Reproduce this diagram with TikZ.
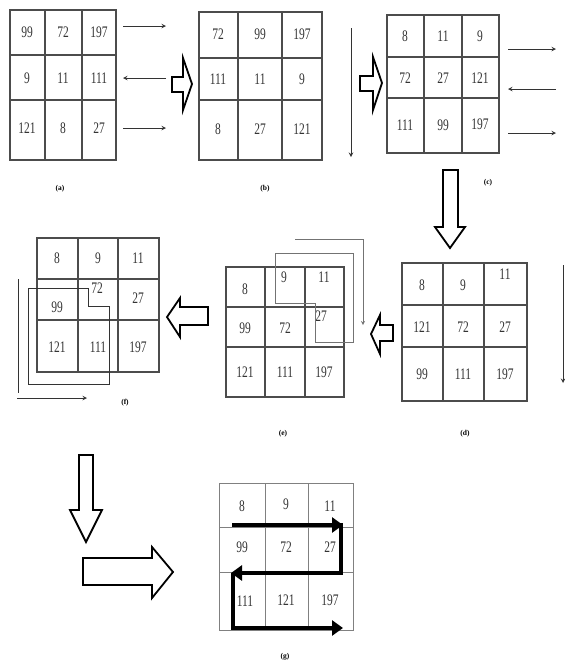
\documentclass[tikz,border=0pt]{standalone}
\usepackage{fontspec}
\setmainfont{Liberation Serif}
\usetikzlibrary{arrows.meta}
\newcommand{\tn}[1]{\scalebox{1}[1.4]{#1}}
\tikzset{
	grid/.style={draw=black!70, line width=1.2pt},
	num/.style={inner sep=0pt, text=black!80, font=\fontsize{11.5}{12}\selectfont},
	lab/.style={inner sep=0pt, font=\fontsize{7.5}{8}\selectfont\bfseries},
	thin/.style={draw=black!80, line width=1pt},
	blockarrow/.style={draw=black, line width=1.8pt, line join=miter, fill=white},
	overlay/.style={draw=black!55, line width=0.8pt},
	path/.style={draw=black, line width=4.5pt, line cap=butt},
}
\begin{document}
\begin{tikzpicture}[x=1pt,y=-1pt]
\useasboundingbox (0,0) rectangle (565,665);

%Grid (a)
\draw[grid] (10,10) rectangle (116,160);
\draw[grid] (45,10) -- (45,160) (82,10) -- (82,160) (10,55) -- (116,55) (10,100) -- (116,100);
\node[num] (a1) at (27,32) {\tn{99}};
\node[num] (a2) at (63,32) {\tn{72}};
\node[num] (a3) at (99,32) {\tn{197}};
\node[num] (a4) at (27,78) {\tn{9}};
\node[num] (a5) at (63,78) {\tn{11}};
\node[num] (a6) at (99,78) {\tn{111}};
\node[num] (a7) at (27,128) {\tn{121}};
\node[num] (a8) at (63,128) {\tn{8}};
\node[num] (a9) at (99,128) {\tn{27}};
\node[lab] (la) at (60,189) {(a)};

%Row arrows (a)
\coordinate (ar1s) at (123,26);  \coordinate (ar1e) at (166,26);
\coordinate (ar2s) at (166,78);  \coordinate (ar2e) at (123,78);
\coordinate (ar3s) at (123,128); \coordinate (ar3e) at (166,128);
\draw[thin,-stealth] (ar1s) -- (ar1e);
\draw[thin,-stealth] (ar2s) -- (ar2e);
\draw[thin,-stealth] (ar3s) -- (ar3e);

%Block arrow (a) to (b)
\draw[blockarrow] (172,77) -- (183,77) -- (183,58) -- (192,84) -- (183,110) -- (183,92) -- (172,92) -- cycle;

%Grid (b)
\draw[grid] (199,12) rectangle (322,160);
\draw[grid] (238,12) -- (238,160) (282,12) -- (282,160) (199,58) -- (322,58) (199,100) -- (322,100);
\node[num] (b1) at (218,34) {\tn{72}};
\node[num] (b2) at (260,34) {\tn{99}};
\node[num] (b3) at (302,34) {\tn{197}};
\node[num] (b4) at (218,79) {\tn{111}};
\node[num] (b5) at (260,79) {\tn{11}};
\node[num] (b6) at (302,79) {\tn{9}};
\node[num] (b7) at (218,129) {\tn{8}};
\node[num] (b8) at (260,129) {\tn{27}};
\node[num] (b9) at (302,129) {\tn{121}};
\node[lab] (lb) at (265,189) {(b)};

%Column arrow (b)
\coordinate (bcs) at (351,28); \coordinate (bce) at (351,157);
\draw[thin,-stealth] (bcs) -- (bce);

%Block arrow (b) to (c)
\draw[blockarrow] (360,76) -- (373,76) -- (373,57) -- (382,83) -- (373,110) -- (373,91) -- (360,91) -- cycle;

%Grid (c)
\draw[grid] (387,15) rectangle (499,153);
\draw[grid] (424,15) -- (424,153) (462,15) -- (462,153) (387,57) -- (499,57) (387,98) -- (499,98);
\node[num] (c1) at (405,36) {\tn{8}};
\node[num] (c2) at (443,36) {\tn{11}};
\node[num] (c3) at (480,36) {\tn{9}};
\node[num] (c4) at (405,78) {\tn{72}};
\node[num] (c5) at (443,78) {\tn{27}};
\node[num] (c6) at (480,78) {\tn{121}};
\node[num] (c7) at (405,125) {\tn{111}};
\node[num] (c8) at (443,125) {\tn{99}};
\node[num] (c9) at (480,124) {\tn{197}};
\node[lab] (lc) at (488,183) {(c)};

%Row arrows (c)
\coordinate (cr1s) at (508,49);  \coordinate (cr1e) at (556,49);
\coordinate (cr2s) at (556,89);  \coordinate (cr2e) at (508,89);
\coordinate (cr3s) at (508,133); \coordinate (cr3e) at (556,133);
\draw[thin,-stealth] (cr1s) -- (cr1e);
\draw[thin,-stealth] (cr2s) -- (cr2e);
\draw[thin,-stealth] (cr3s) -- (cr3e);

%Block arrow (c) to (d)
\draw[blockarrow] (443,170) -- (458,170) -- (458,227) -- (465,227) -- (450,248) -- (435,227) -- (443,227) -- cycle;

%Grid (d)
\draw[grid] (402,263) rectangle (527,401);
\draw[grid] (443,263) -- (443,401) (484,263) -- (484,401) (402,305) -- (527,305) (402,347) -- (527,347);
\node[num] (d1) at (422,285) {\tn{8}};
\node[num] (d2) at (463,285) {\tn{9}};
\node[num] (d3) at (505,274) {\tn{11}};
\node[num] (d4) at (422,327) {\tn{121}};
\node[num] (d5) at (463,327) {\tn{72}};
\node[num] (d6) at (505,327) {\tn{27}};
\node[num] (d7) at (422,374) {\tn{99}};
\node[num] (d8) at (463,374) {\tn{111}};
\node[num] (d9) at (505,374) {\tn{197}};
\node[lab] (ld) at (465,434) {(d)};

%Column arrow (d)
\coordinate (dcs) at (563,265); \coordinate (dce) at (563,383);
\draw[thin,-stealth] (dcs) -- (dce);

%Block arrow (d) to (e)
\draw[blockarrow] (393,325) -- (380,325) -- (380,315) -- (371,334) -- (380,354) -- (380,341) -- (393,341) -- cycle;

%Grid (e)
\draw[grid] (226,267) rectangle (344,397);
\draw[grid] (265,267) -- (265,397) (305,267) -- (305,397) (226,307) -- (344,307) (226,347) -- (344,347);
\node[num] (e1) at (245,289) {\tn{8}};
\node[num] (e2) at (284,277) {\tn{9}};
\node[num] (e3) at (324,277) {\tn{11}};
\node[num] (e4) at (245,328) {\tn{99}};
\node[num] (e5) at (285,328) {\tn{72}};
\node[num] (e6) at (321,316) {\tn{27}};
\node[num] (e7) at (245,372) {\tn{121}};
\node[num] (e8) at (285,372) {\tn{111}};
\node[num] (e9) at (324,372) {\tn{197}};
\node[lab] (le) at (283,434) {(e)};

%Diagonal scan (e)
\draw[overlay] (275,253) -- (353,253) -- (353,342) -- (315,342) -- (315,303) -- (275,303) -- cycle;
\coordinate (ecs) at (295,239); \coordinate (ece) at (363,325);
\draw[overlay,-stealth] (ecs) -- (363,239) -- (ece);

%Block arrow (e) to (f)
\draw[blockarrow] (208,307) -- (180,307) -- (180,298) -- (167,317) -- (180,337) -- (180,325) -- (208,325) -- cycle;

%Grid (f)
\draw[grid] (37,238) rectangle (159,372);
\draw[grid] (78,238) -- (78,372) (118,238) -- (118,372) (37,279) -- (159,279) (37,320) -- (159,320);
\node[num] (f1) at (57,258) {\tn{8}};
\node[num] (f2) at (98,258) {\tn{9}};
\node[num] (f3) at (138,258) {\tn{11}};
\node[num] (f4) at (57,307) {\tn{99}};
\node[num] (f5) at (97,288) {\tn{72}};
\node[num] (f6) at (138,298) {\tn{27}};
\node[num] (f7) at (57,347) {\tn{121}};
\node[num] (f8) at (98,347) {\tn{111}};
\node[num] (f9) at (138,347) {\tn{197}};
\node[lab] (lf) at (125,403) {(f)};

%Diagonal scan (f)
\draw[thin] (28,288) -- (88,288) -- (88,306) -- (109,306) -- (109,384) -- (28,384) -- cycle;
\coordinate (fcs) at (18,279); \coordinate (fce) at (18,393);
\draw[thin] (fcs) -- (fce);
\coordinate (frs) at (17,398); \coordinate (fre) at (87,398);
\draw[thin,-stealth] (frs) -- (fre);

%Block arrows (f) to (g)
\draw[blockarrow] (79,455) -- (93,455) -- (93,510) -- (102,510) -- (86,542) -- (70,510) -- (79,510) -- cycle;
\draw[blockarrow] (83,558) -- (152,558) -- (152,547) -- (173,572) -- (152,598) -- (152,585) -- (83,585) -- cycle;

%Grid (g)
\draw[grid,draw=black!50,line width=0.8pt] (219,483) rectangle (353,630);
\draw[grid,draw=black!50,line width=0.8pt] (265,483) -- (265,630) (308,483) -- (308,630) (219,527) -- (353,527) (219,572) -- (353,572);
\node[num] (g1) at (242,506) {\tn{8}};
\node[num] (g2) at (286,504) {\tn{9}};
\node[num] (g3) at (330,506) {\tn{11}};
\node[num] (g4) at (242,547) {\tn{99}};
\node[num] (g5) at (286,547) {\tn{72}};
\node[num] (g6) at (330,547) {\tn{27}};
\node[num] (g7) at (245,601) {\tn{111}};
\node[num] (g8) at (286,600) {\tn{121}};
\node[num] (g9) at (330,600) {\tn{197}};
\node[lab] (lg) at (285,657) {(g)};

%Zigzag scan (g)
\coordinate (z1) at (232,525); \coordinate (z2) at (343,525);
\coordinate (z3) at (341,573); \coordinate (z4) at (231,573);
\coordinate (z5) at (233,573); \coordinate (z6) at (233,628); \coordinate (z7) at (343,628);
\draw[path,-{Triangle[length=11pt,width=15pt]}] (z1) -- (z2);
\draw[path,line join=miter,-{Triangle[length=11pt,width=15pt]}] (341,523) -- (z3) -- (z4);
\draw[path,line join=miter,-{Triangle[length=11pt,width=15pt]}] (z5) -- (z6) -- (z7);

\end{tikzpicture}
\end{document}
